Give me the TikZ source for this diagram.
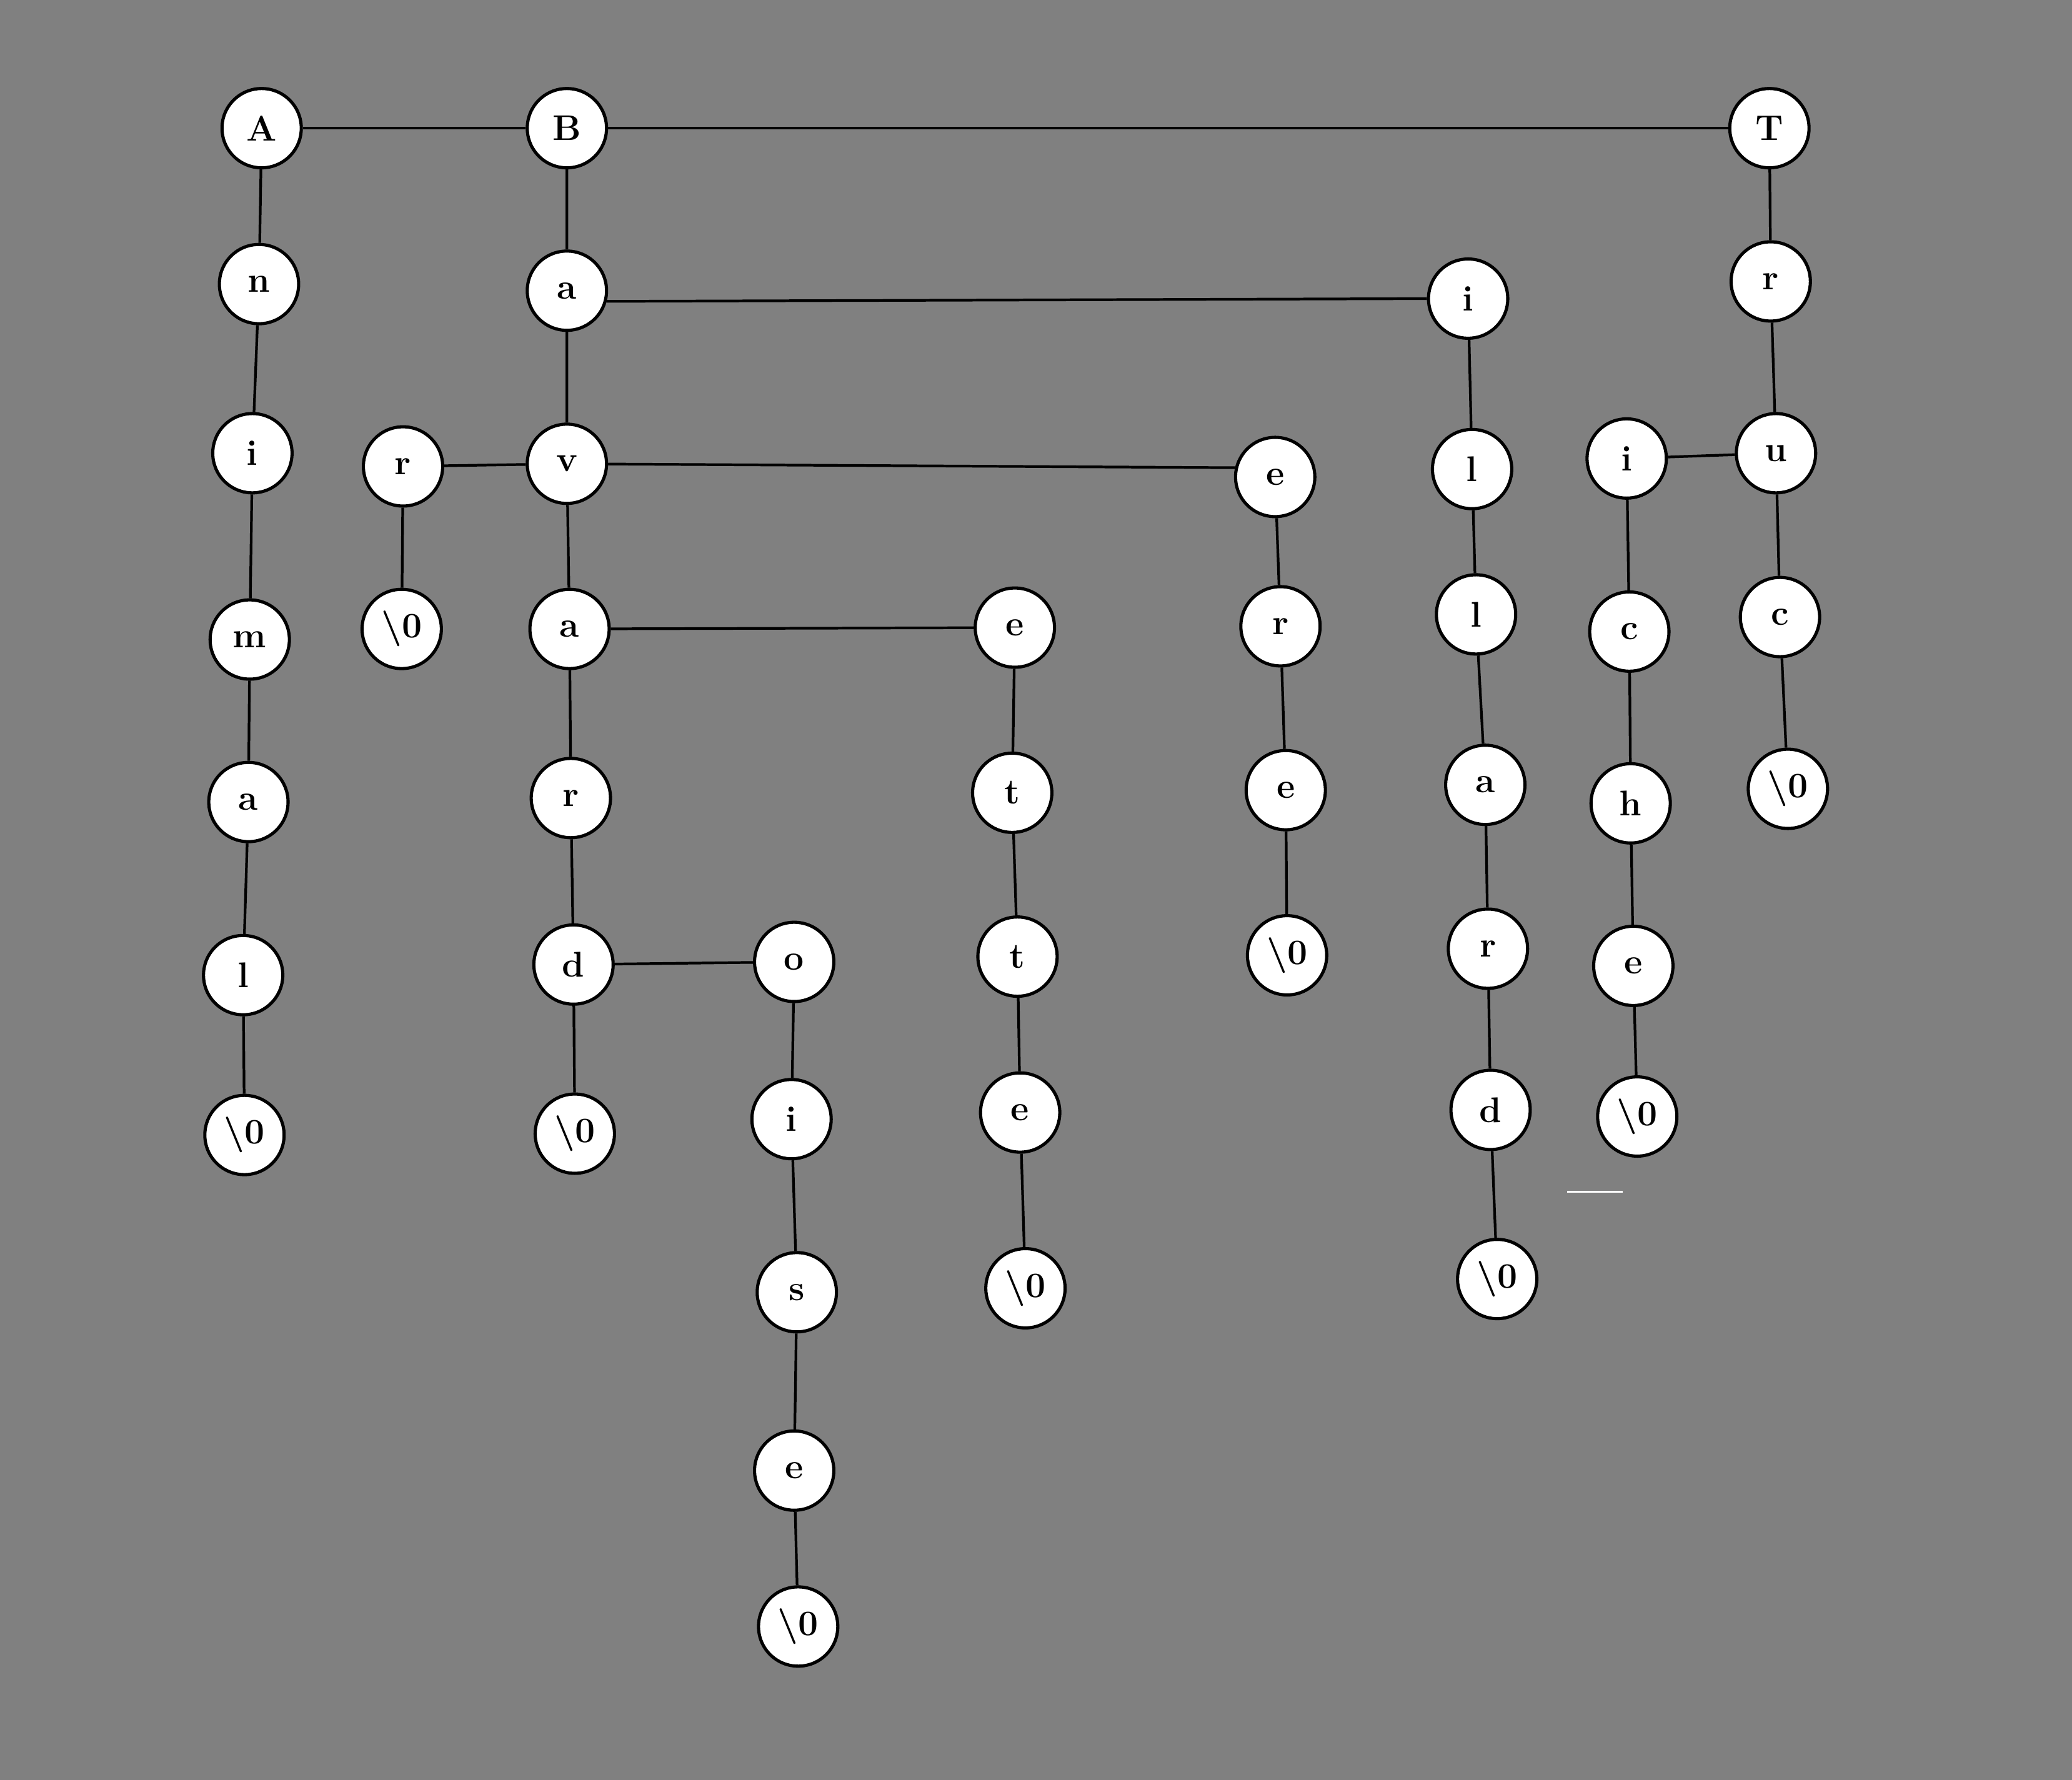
\documentclass[tikz,border=0pt]{standalone}
\definecolor{bggray}{RGB}{128,128,128}
\tikzset{
    letter/.style={circle, draw, line width=2.4pt, fill=white, minimum size=60pt, inner sep=0pt,
        font=\fontsize{27}{32}\selectfont\bfseries},
    link/.style={line width=2pt}
}
\newcommand{\nul}{\textbackslash 0}
\begin{document}
\begin{tikzpicture}[x=1pt, y=-1pt]
        \fill[bggray] (0,0) rectangle (1568,1347);
        \useasboundingbox (0,0) rectangle (1568,1347);
        % Animal
        \node[letter] (A) at (198,97) {A};
        \node[letter] (An) at (196,215) {n};
        \node[letter] (Ani) at (191,343) {i};
        \node[letter] (Anim) at (189,484) {m};
        \node[letter] (Anima) at (188,607) {a};
        \node[letter] (Animal) at (184,738) {l};
        \node[letter] (Animal0) at (185,859) {\nul};
        % B...
        \node[letter] (B) at (429,97) {B};
        \node[letter] (Ba) at (429,220) {a};
        \node[letter] (Bav) at (429,351) {v};
        \node[letter] (Bar) at (305,353) {r};
        \node[letter] (Bar0) at (304,476) {\nul};
        \node[letter] (Bava) at (431,476) {a};
        \node[letter] (Bavar) at (432,604) {r};
        \node[letter] (Bavard) at (434,730) {d};
        \node[letter] (Bavard0) at (435,858) {\nul};
        \node[letter] (Bavaro) at (601,728) {o};
        \node[letter] (Bavaroi) at (599,847) {i};
        \node[letter] (Bavarois) at (603,978) {s};
        \node[letter] (Bavaroise) at (601,1113) {e};
        \node[letter] (Bavaroise0) at (604,1231) {\nul};
        \node[letter] (Bave) at (768,475) {e};
        \node[letter] (Bavet) at (766,600) {t};
        \node[letter] (Bavett) at (770,724) {t};
        \node[letter] (Bavette) at (772,842) {e};
        \node[letter] (Bavette0) at (776,975) {\nul};
        \node[letter] (Bae) at (965,361) {e};
        \node[letter] (Baer) at (969,474) {r};
        \node[letter] (Baere) at (973,598) {e};
        \node[letter] (Baere0) at (974,723) {\nul};
        \node[letter] (Bi) at (1111,226) {i};
        \node[letter] (Bil) at (1114,355) {l};
        \node[letter] (Bill) at (1117,465) {l};
        \node[letter] (Billa) at (1124,594) {a};
        \node[letter] (Billar) at (1126,718) {r};
        \node[letter] (Billard) at (1128,840) {d};
        \node[letter] (Billard0) at (1133,968) {\nul};
        % Tr...
        \node[letter] (T) at (1339,97) {T};
        \node[letter] (Tr) at (1340,213) {r};
        \node[letter] (Tru) at (1344,343) {u};
        \node[letter] (Truc) at (1347,467) {c};
        \node[letter] (Truc0) at (1353,597) {\nul};
        \node[letter] (Tri) at (1231,347) {i};
        \node[letter] (Tric) at (1233,478) {c};
        \node[letter] (Trich) at (1234,608) {h};
        \node[letter] (Triche) at (1236,731) {e};
        \node[letter] (Triche0) at (1239,845) {\nul};

        % children (vertical)
        \draw[link] (A) -- (An) -- (Ani) -- (Anim) -- (Anima) -- (Animal) -- (Animal0);
        \draw[link] (B) -- (Ba) -- (Bav) -- (Bava) -- (Bavar) -- (Bavard) -- (Bavard0);
        \draw[link] (Bar) -- (Bar0);
        \draw[link] (Bavaro) -- (Bavaroi) -- (Bavarois) -- (Bavaroise) -- (Bavaroise0);
        \draw[link] (Bave) -- (Bavet) -- (Bavett) -- (Bavette) -- (Bavette0);
        \draw[link] (Bae) -- (Baer) -- (Baere) -- (Baere0);
        \draw[link] (Bi) -- (Bil) -- (Bill) -- (Billa) -- (Billar) -- (Billard) -- (Billard0);
        \draw[link] (T) -- (Tr) -- (Tru) -- (Truc) -- (Truc0);
        \draw[link] (Tri) -- (Tric) -- (Trich) -- (Triche) -- (Triche0);
        % siblings (horizontal)
        \draw[link] (A) -- (B) -- (T);
        \draw[link] (Ba.345) -- (Bi.west);
        \draw[link] (Bar) -- (Bav) -- (Bae.167);
        \draw[link] (Bava) -- (Bave);
        \draw[link] (Bavard) -- (Bavaro);
        \draw[link] (Tri) -- (Tru);

        \draw[white, line width=1.6pt] (1186,902) -- (1228,902);
    \end{tikzpicture}
\end{document}
